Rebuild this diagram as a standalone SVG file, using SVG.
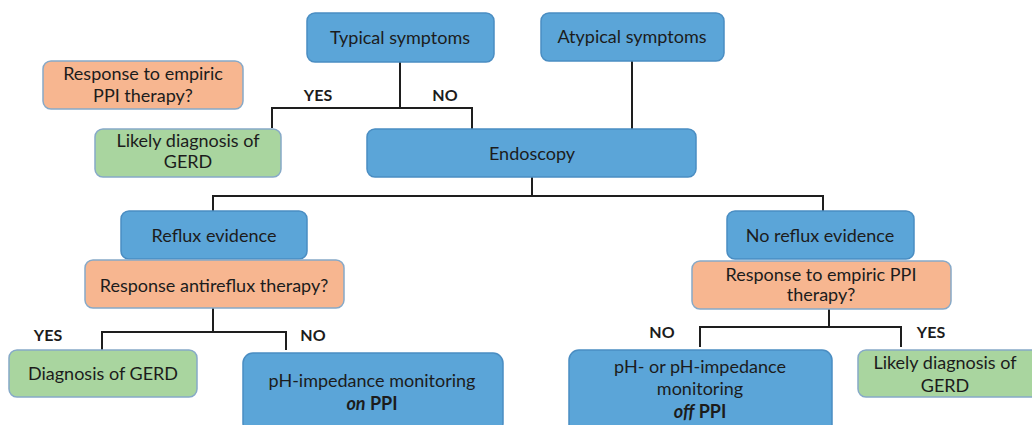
<svg xmlns="http://www.w3.org/2000/svg" width="1032" height="425" viewBox="0 0 1032 425">
  <style>
    .blue { fill: #5ba5d8; stroke: #4a8dc2; stroke-width: 1.5; }
    .orange { fill: #f7b690; stroke: #86a9c8; stroke-width: 1.5; }
    .green { fill: #a9d59f; stroke: #86a9c8; stroke-width: 1.5; }
    text { font-family: Lato, "Open Sans", sans-serif; font-size: 18px; fill: #1c1c1c; text-anchor: middle; }
    .lbl { font-weight: bold; font-size: 16px; }
    .b { font-weight: bold; }
    .bi { font-weight: bold; font-style: italic; }
    .wire { fill: none; stroke: #1e1e1e; stroke-width: 2; }
  </style>

  <!-- connectors -->
  <g id="connectors">
    <path class="wire" d="M400 62 V108 M272 128 V108 H472 V129"/>
    <path class="wire" d="M632 61 V129"/>
    <path class="wire" d="M532 177 V196 M213 211 V196 H823 V211"/>
    <path class="wire" d="M213 308 V332 M102 350 V332 H286 V350"/>
    <path class="wire" d="M829 309 V327 M700 347 V327 H901 V347"/>
  </g>

  <!-- branch labels -->
  <g id="labels">
    <text class="lbl" x="318" y="101">YES</text>
    <text class="lbl" x="445" y="101">NO</text>
    <text class="lbl" x="48" y="341">YES</text>
    <text class="lbl" x="313" y="341">NO</text>
    <text class="lbl" x="662" y="338">NO</text>
    <text class="lbl" x="931" y="338">YES</text>
  </g>

  <g id="typical">
    <rect class="blue" x="307" y="13" width="187" height="49" rx="8"/>
    <text x="400" y="44">Typical symptoms</text>
  </g>

  <g id="atypical">
    <rect class="blue" x="541" y="13" width="183" height="48" rx="8"/>
    <text x="632" y="43">Atypical symptoms</text>
  </g>

  <g id="empiric-top">
    <rect class="orange" x="43" y="61" width="200" height="48" rx="8"/>
    <text x="143" y="80">Response to empiric</text>
    <text x="143" y="102">PPI therapy?</text>
  </g>

  <g id="likely-top">
    <rect class="green" x="95" y="129" width="186" height="48" rx="8"/>
    <text x="188" y="147">Likely diagnosis of</text>
    <text x="188" y="168">GERD</text>
  </g>

  <g id="endoscopy">
    <rect class="blue" x="367" y="129" width="329" height="48" rx="8"/>
    <text x="532" y="160">Endoscopy</text>
  </g>

  <g id="reflux">
    <rect class="blue" x="121" y="211" width="186" height="48" rx="8"/>
    <text x="214" y="242">Reflux evidence</text>
  </g>

  <g id="antireflux">
    <rect class="orange" x="85" y="260" width="259" height="48" rx="8"/>
    <text x="214" y="292">Response antireflux therapy?</text>
  </g>

  <g id="diagnosis">
    <rect class="green" x="9" y="350" width="188" height="47" rx="8"/>
    <text x="103" y="380">Diagnosis of GERD</text>
  </g>

  <g id="ph-on">
    <rect class="blue" x="243" y="353" width="260" height="80" rx="10"/>
    <text x="372" y="387">pH-impedance monitoring</text>
    <text x="372" y="410"><tspan class="bi">on</tspan><tspan class="b"> PPI</tspan></text>
  </g>

  <g id="no-reflux">
    <rect class="blue" x="727" y="211" width="187" height="48" rx="8"/>
    <text x="820" y="242">No reflux evidence</text>
  </g>

  <g id="empiric-right">
    <rect class="orange" x="692" y="261" width="259" height="48" rx="8"/>
    <text x="821" y="281">Response to empiric PPI</text>
    <text x="821" y="301">therapy?</text>
  </g>

  <g id="ph-off">
    <rect class="blue" x="569" y="350" width="263" height="85" rx="10"/>
    <text x="700" y="373">pH- or pH-impedance</text>
    <text x="700" y="395">monitoring</text>
    <text x="700" y="418"><tspan class="bi">off</tspan><tspan class="b"> PPI</tspan></text>
  </g>

  <g id="likely-right">
    <rect class="green" x="858" y="350" width="190" height="47" rx="8"/>
    <text x="945" y="369">Likely diagnosis of</text>
    <text x="945" y="392">GERD</text>
  </g>
</svg>
